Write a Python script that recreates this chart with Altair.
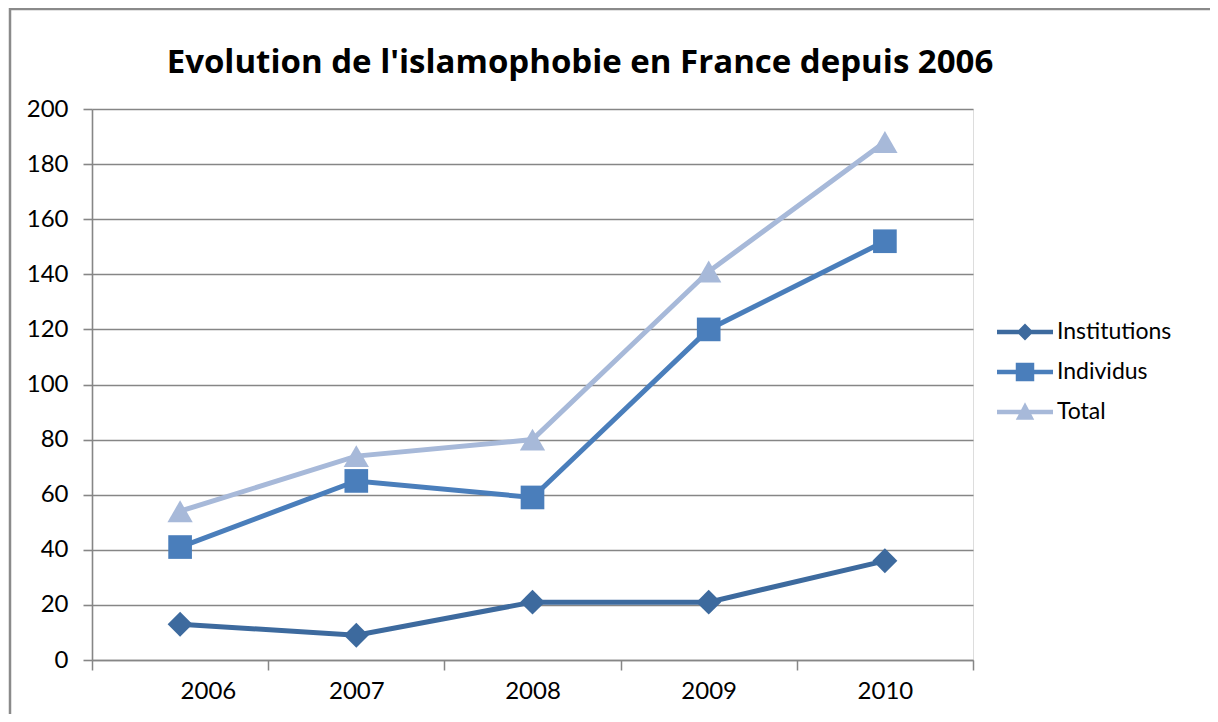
import altair as alt
import pandas as pd

years = [2006, 2007, 2008, 2009, 2010]
series_names = ["Institutions", "Individus", "Total"]
institutions = [13, 9, 21, 21, 36]
individus = [41, 65, 59, 120, 152]
total = [54, 74, 80, 141, 188]
y_ticks = list(range(0, 201, 20))
x_ticks = [2005.5, 2006.5, 2007.5, 2008.5, 2009.5, 2010.5]
title_text = "Evolution de l'islamophobie en France depuis 2006"

colors = ["#3D6A9E", "#4A7EBB", "#A7B9D9"]
marker_shapes = ["diamond", "square", "triangle-up"]
marker_sizes = [620, 560, 640]
# legend symbols: line segment + marker (custom SVG paths in [-1, 1])
legend_paths = [
    "M-1,-0.08H1V0.08H-1Z M0,-0.3L0.3,0L0,0.3L-0.3,0Z",
    "M-1,-0.08H1V0.08H-1Z M-0.33,-0.33H0.33V0.33H-0.33Z",
    "M-1,-0.08H1V0.08H-1Z M0,-0.35L0.33,0.28L-0.33,0.28Z",
]

rows = []
for name, vals in zip(series_names, [institutions, individus, total]):
    for yr, v in zip(years, vals):
        rows.append({"year": yr, "series": name, "value": v})
df = pd.DataFrame(rows)

W, H = 881, 551
PAD = {"left": 84, "top": 101, "right": 237, "bottom": 54}
FONT = "Lato"
TITLE_FONT = "Open Sans"
GRID = "#868686"

x_enc = alt.X(
    "year:Q",
    scale=alt.Scale(domain=[2005.5, 2010.5], nice=False, zero=False),
    axis=alt.Axis(
        values=x_ticks,
        title=None,
        grid=False,
        domainColor=GRID,
        domainWidth=1.5,
        tickColor=GRID,
        tickWidth=1.5,
        tickSize=10,
        labelOffset=W / 10,
        labelExpr="datum.value < 2010 ? '' + (datum.value + 0.5) : ''",
        labelFont=FONT,
        labelFontSize=24,
        labelColor="#000000",
        labelPadding=9,
    ),
)
y_enc = alt.Y(
    "value:Q",
    scale=alt.Scale(domain=[0, 200], nice=False),
    axis=alt.Axis(
        values=y_ticks,
        title=None,
        grid=True,
        gridColor=GRID,
        gridWidth=1.6,
        domainColor=GRID,
        domainWidth=1.6,
        tickColor=GRID,
        tickWidth=1.6,
        tickSize=9,
        labelFont=FONT,
        labelFontSize=24,
        labelColor="#000000",
        labelPadding=15,
    ),
)

base = alt.Chart(df)

lines = base.mark_line(strokeWidth=5).encode(
    x=x_enc,
    y=y_enc,
    stroke=alt.Stroke(
        "series:N", sort=series_names, scale=alt.Scale(range=colors), legend=None
    ),
)

markers = []
for name, shp, sz in zip(series_names, marker_shapes, marker_sizes):
    markers.append(
        base.transform_filter(alt.datum.series == name)
        .mark_point(shape=shp, filled=True, size=sz, opacity=1)
        .encode(
            x="year:Q",
            y="value:Q",
            fill=alt.Fill(
                "series:N",
                sort=series_names,
                scale=alt.Scale(range=colors),
                legend=None,
            ),
        )
    )

legend_layer = (
    base.transform_filter("false")
    .mark_point(filled=True, opacity=1)
    .encode(
        x="year:Q",
        y="value:Q",
        color=alt.Color(
            "series:N",
            scale=alt.Scale(domain=series_names, range=colors),
            legend=alt.Legend(
                title=None,
                orient="none",
                legendX=905,
                legendY=195,
                symbolSize=3136,
                symbolStrokeWidth=0,
                symbolOpacity=1,
                labelFont=FONT,
                labelFontSize=23,
                labelColor="#000000",
                labelOffset=4,
                labelLimit=300,
                rowPadding=-20,
            ),
        ),
        shape=alt.Shape(
            "series:N",
            scale=alt.Scale(domain=series_names, range=legend_paths),
            legend=alt.Legend(title=None),
        ),
    )
)

single = alt.Chart(alt.Data(values=[{"t": title_text}]))
title_mark = single.mark_text(
    font=TITLE_FONT,
    fontSize=33,
    fontWeight="bold",
    color="#000000",
    align="center",
    baseline="alphabetic",
    clip=False,
).encode(text="t:N", x=alt.value(488), y=alt.value(-36))

left_border = single.mark_rule(color="#8A8A8A", strokeWidth=2.5, clip=False).encode(
    x=alt.value(-PAD["left"] + 2),
    y=alt.value(-PAD["top"]),
    y2=alt.value(H + PAD["bottom"]),
)
top_border = single.mark_rule(color="#8A8A8A", strokeWidth=2.5, clip=False).encode(
    x=alt.value(-PAD["left"] + 2),
    x2=alt.value(W + PAD["right"]),
    y=alt.value(-PAD["top"] + 1),
)

chart = (
    alt.layer(lines, *markers, legend_layer, title_mark, left_border, top_border)
    .properties(
        width=W,
        height=H,
        padding=PAD,
        autosize=alt.AutoSizeParams(type="none"),
    )
    .configure_view(stroke="transparent")
    .configure(background="white")
)

chart.save("out.html", embed_options={"renderer": "svg", "actions": False})
